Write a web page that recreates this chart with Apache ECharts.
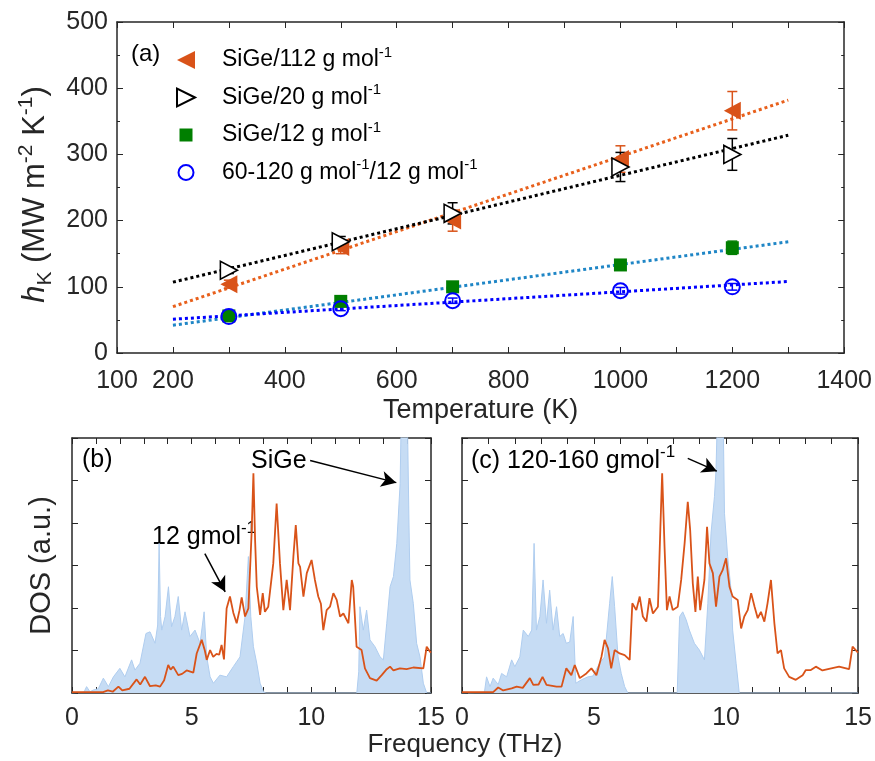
<!DOCTYPE html>
<html><head><meta charset="utf-8">
<script src="https://cdn.jsdelivr.net/npm/echarts@6/dist/echarts.min.js"></script>
<style>html,body{margin:0;padding:0;background:#fff}#c{width:875px;height:761px}</style>
</head><body><div id="c"></div><script>
// ---- panel (a) data ----
const temps = [300, 500, 700, 1000, 1200];
const h112 = [104, 160, 200, 293, 366];
const e112 = [6, 10, 16, 20, 29];
const h20 = [125, 168, 211, 281, 300];
const e20 = [5, 8, 16, 22, 24];
const h12 = [56, 78, 100, 133, 159];
const e12 = [3, 4, 5, 6, 10];
const hMix = [55, 67, 79, 94, 100];
const eMix = [3, 3, 4, 5, 5];
const fitT = [200, 1300];
const fit112 = [70, 382];
const fit20 = [107, 329];
const fit12 = [42, 168];
const fitMix = [51, 108];
const xTickLabels = ['100', '200', '400', '600', '800', '1000', '1200', '1400'];
const yTickLabels = ['0', '100', '200', '300', '400', '500'];
const freqTickLabels = ['0', '5', '10', '15'];
const legendNames = ['SiGe/112 g mol-1', 'SiGe/20 g mol-1', 'SiGe/12 g mol-1', '60-120 g mol-1/12 g mol-1'];

// ---- panel (b) DOS ----
const dosB12 = [[0,0.02],[1.3,0.02],[1.5,0.06],[1.7,0.03],[1.94,0.15],[2.1,0.06],[2.4,0.1],[2.7,0.32],[2.85,0.2],[3.05,0.38],[3.26,0.16],[3.5,0.18],[3.68,0.15],[3.85,0.3],[4.02,0.66],[4.12,0.55],[4.23,0.62],[4.44,0.42],[4.6,0.45],[4.79,0.53],[5.07,0.48],[5.21,0.93],[5.42,1.25],[5.55,1.0],[5.63,0.78],[5.77,1.01],[5.9,0.85],[6.04,0.92],[6.15,0.9],[6.25,1.13],[6.35,0.79],[6.46,1.99],[6.6,2.27],[6.74,1.89],[6.88,1.64],[7.0,1.95],[7.09,2.25],[7.23,1.8],[7.37,1.99],[7.51,3.84],[7.58,5.17],[7.65,3.6],[7.72,2.5],[7.86,1.84],[7.97,2.35],[8.06,1.91],[8.2,2.03],[8.41,3.05],[8.55,4.46],[8.69,3.05],[8.83,1.95],[8.97,2.66],[9.11,1.95],[9.25,3.21],[9.35,3.95],[9.46,3.05],[9.53,2.97],[9.67,2.27],[9.81,2.82],[10.01,3.13],[10.15,2.66],[10.29,2.27],[10.4,2.1],[10.5,1.48],[10.64,1.95],[10.78,2.03],[10.92,2.35],[11.06,2.19],[11.2,1.8],[11.34,1.87],[11.55,1.64],[11.69,2.66],[11.75,2.5],[11.89,1.09],[12.1,1.01],[12.24,0.58],[12.45,0.35],[12.73,0.29],[12.94,0.42],[13.15,0.56],[13.29,0.62],[13.43,0.53],[13.7,0.58],[13.98,0.56],[14.26,0.6],[14.68,0.58],[14.82,1.09],[14.96,0.97],[15,0.95]];
const dosBSiGe = [[0,0],[0.5,0.02],[0.61,0.15],[0.75,0.03],[0.89,0.07],[1.1,0.1],[1.31,0.35],[1.52,0.15],[1.73,0.38],[2.0,0.58],[2.21,0.38],[2.49,0.78],[2.63,0.54],[2.84,0.7],[3.09,1.4],[3.26,1.44],[3.47,1.17],[3.58,1.6],[3.64,3.52],[3.7,1.8],[3.75,1.48],[3.89,1.8],[4.03,2.5],[4.16,1.56],[4.3,1.8],[4.44,2.27],[4.58,1.48],[4.72,1.91],[4.93,1.33],[5.14,1.48],[5.35,1.17],[5.52,1.91],[5.63,0.85],[5.77,0.38],[5.91,0.23],[6.18,0.42],[6.46,0.38],[6.74,0.62],[7.02,0.85],[7.23,1.8],[7.37,3.21],[7.47,1.8],[7.58,1.09],[7.72,0.7],[7.86,0.23],[8.0,0.03],[8.1,0],[11.9,0],[11.98,0.5],[12.03,2.03],[12.17,1.48],[12.31,1.95],[12.45,1.25],[12.66,1.09],[12.87,0.85],[13.01,0.78],[13.15,1.64],[13.29,2.5],[13.43,2.74],[13.57,3.52],[13.71,4.93],[13.77,7],[14.0,7],[14.08,4.0],[14.12,2.66],[14.26,2.11],[14.4,1.17],[14.54,0.85],[14.68,0.23],[14.82,0],[15,0]];
// ---- panel (c) DOS ----
const dosC12 = [[0,0.02],[1.18,0.02],[1.37,0.13],[1.56,0.06],[1.88,0.11],[2.07,0.15],[2.3,0.12],[2.57,0.35],[2.7,0.19],[2.9,0.2],[3.05,0.38],[3.2,0.19],[3.58,0.15],[3.77,0.15],[3.95,0.58],[4.14,0.42],[4.27,0.66],[4.46,0.35],[4.71,0.46],[4.9,0.58],[5.09,0.42],[5.28,0.85],[5.4,1.25],[5.53,1.05],[5.65,0.58],[5.78,1.01],[5.97,0.93],[6.16,0.89],[6.35,0.78],[6.45,2.11],[6.6,1.95],[6.73,2.27],[6.85,1.8],[6.98,1.68],[7.1,2.23],[7.23,1.87],[7.42,2.03],[7.51,3.84],[7.58,5.17],[7.67,3.44],[7.76,1.95],[7.86,2.27],[7.98,1.95],[8.17,2.03],[8.3,2.66],[8.43,3.52],[8.55,4.5],[8.64,3.84],[8.74,2.58],[8.84,1.91],[8.93,2.74],[9.02,1.95],[9.18,2.66],[9.28,3.91],[9.37,3.05],[9.5,2.82],[9.62,2.03],[9.75,2.74],[9.87,2.89],[10.0,3.17],[10.13,2.5],[10.25,2.27],[10.44,2.19],[10.57,1.52],[10.69,1.8],[10.82,1.95],[10.95,2.35],[11.08,2.03],[11.2,1.76],[11.32,1.91],[11.45,1.68],[11.57,2.11],[11.7,2.66],[11.83,1.64],[11.95,0.93],[12.08,1.01],[12.2,0.58],[12.39,0.38],[12.64,0.31],[12.9,0.42],[13.02,0.54],[13.21,0.54],[13.4,0.62],[13.65,0.53],[13.9,0.57],[14.28,0.62],[14.66,0.56],[14.79,1.09],[14.97,0.97],[15,0.95]];
const dosCHeavy = [[0,0],[0.85,0.02],[0.93,0.38],[1.06,0.15],[1.18,0.35],[1.37,0.2],[1.5,0.46],[1.69,0.38],[1.88,0.78],[2.0,0.62],[2.19,0.85],[2.32,1.48],[2.51,1.33],[2.64,1.48],[2.73,3.52],[2.82,1.48],[2.95,1.8],[3.07,2.66],[3.2,1.64],[3.32,2.42],[3.45,1.48],[3.58,2.03],[3.7,1.33],[3.83,1.4],[3.95,1.17],[4.08,1.2],[4.21,1.8],[4.31,0.23],[4.52,0.31],[4.77,0.38],[4.96,0.4],[5.21,0.7],[5.4,0.85],[5.59,2.11],[5.69,2.74],[5.78,2.03],[5.91,0.85],[6.03,0.46],[6.16,0.15],[6.28,0],[8.15,0],[8.24,1.8],[8.36,1.91],[8.49,1.72],[8.61,1.48],[8.8,1.17],[8.99,1.01],[9.18,0.78],[9.31,2.11],[9.43,3.76],[9.56,4.62],[9.62,5.25],[9.69,7],[9.88,7],[9.94,4.23],[10.06,3.21],[10.19,2.42],[10.25,1.48],[10.38,0.7],[10.5,0],[15,0]];

const FONT = 'Liberation Sans';
const AX = '#262626';
const C_OR = '#D95319', C_BK = '#000000', C_GR = '#007F00', C_BL = '#0000FF', C_TEAL = '#1F86C6';
const C_DOSFILL = '#C6DCF4', C_DOSLINE = '#AFCDEF';
const SYM_LEFT = 'path://M0,5L10,0L10,10Z';
const SYM_RIGHT = 'path://M10,5L0,0L0,10Z';
const ICON_SQUARE = 'path://M0,0M18,18M2.5,2.5L15.5,2.5L15.5,15.5L2.5,15.5Z';
const ICON_CIRCLE = 'path://M0,0M18,18M16.5,9A7.5,7.5,0,1,1,1.5,9A7.5,7.5,0,1,1,16.5,9Z';

const chart = echarts.init(document.getElementById('c'), null, {renderer: 'canvas'});

function pairs(xs, ys) { return xs.map((x, i) => [x, ys[i]]); }
function errData(h, e) { return temps.map((t, i) => [t, h[i] - e[i], h[i] + e[i]]); }
function errSeries(h, e, color) {
  return {
    type: 'custom', xAxisIndex: 0, yAxisIndex: 0, silent: true, z: 4,
    data: errData(h, e),
    renderItem: function (params, api) {
      const x = api.value(0), lo = api.value(1), hi = api.value(2);
      const p1 = api.coord([x, lo]), p2 = api.coord([x, hi]);
      const w = 5;
      const st = {stroke: color, lineWidth: 1.5};
      return {type: 'group', children: [
        {type: 'line', shape: {x1: p1[0], y1: p1[1], x2: p2[0], y2: p2[1]}, style: st},
        {type: 'line', shape: {x1: p1[0] - w, y1: p1[1], x2: p1[0] + w, y2: p1[1]}, style: st},
        {type: 'line', shape: {x1: p2[0] - w, y1: p2[1], x2: p2[0] + w, y2: p2[1]}, style: st}
      ]};
    }
  };
}
function fitSeries(ys, color) {
  return {type: 'line', xAxisIndex: 0, yAxisIndex: 0, data: pairs(fitT, ys), showSymbol: false, silent: true, z: 2,
    lineStyle: {color: color, width: 3, type: 'dotted'}};
}
const supRich = {sup: {fontSize: 15, verticalAlign: 'top', fontFamily: FONT, color: '#000'}};

function boxAxes(gridIndex, kind, opts) {
  const common = Object.assign({gridIndex: gridIndex, type: 'value'}, opts);
  const main = Object.assign({}, common, {
    axisLine: {show: true, onZero: false, lineStyle: {color: AX, width: 1.5}},
    axisTick: {show: true, inside: true, length: 6, lineStyle: {color: AX, width: 1}},
    splitLine: {show: false}
  });
  const mirror = Object.assign({}, common, {
    position: kind === 'x' ? 'top' : 'right',
    axisLine: {show: true, onZero: false, lineStyle: {color: AX, width: 1.5}},
    axisTick: {show: true, inside: true, length: 6, lineStyle: {color: AX, width: 1}},
    axisLabel: {show: false}, splitLine: {show: false}, name: ''
  });
  if (opts.minorTick) { main.minorTick = opts.minorTick; mirror.minorTick = opts.minorTick; }
  return [main, mirror];
}

const xa = boxAxes(0, 'x', {min: 100, max: 1400, interval: 100,
  axisLabel: {fontSize: 25, fontFamily: FONT, color: AX, margin: 16,
    formatter: v => xTickLabels.indexOf(String(v)) >= 0 ? String(v) : ''},
  name: 'Temperature (K)', nameLocation: 'middle', nameGap: 44,
  nameTextStyle: {fontSize: 27, fontFamily: FONT, color: AX}});
const ya = boxAxes(0, 'y', {min: 0, max: 500, interval: 100,
  minorTick: {show: true, splitNumber: 2, length: 3, lineStyle: {color: AX}},
  axisLabel: {fontSize: 25, fontFamily: FONT, color: AX, margin: 9,
    formatter: v => yTickLabels.indexOf(String(v)) >= 0 ? String(v) : ''},
  name: '{it|h}{sub|K} (MW m{sup|-2} K{sup|-1})', nameLocation: 'middle', nameGap: 55,
  nameTextStyle: {fontSize: 31, fontFamily: FONT, color: AX, lineHeight: 40, padding: [0, 14, 0, 0],
    rich: {it: {fontStyle: 'italic', fontSize: 31, fontFamily: FONT, color: AX},
      sub: {fontSize: 21, verticalAlign: 'bottom', fontFamily: FONT, color: AX},
      sup: {fontSize: 21, verticalAlign: 'top', fontFamily: FONT, color: AX}}}});

function dosX(g) {
  return boxAxes(g, 'x', {min: 0, max: 15, interval: 1,
    axisLabel: {fontSize: 25, fontFamily: FONT, color: AX, margin: 13,
      formatter: v => freqTickLabels.indexOf(String(v)) >= 0 ? String(v) : ''}});
}
function dosY(g, withName) {
  const o = {min: 0, max: 6, interval: 1, axisLabel: {show: false}};
  if (withName) {
    o.name = 'DOS (a.u.)'; o.nameLocation = 'middle'; o.nameGap = 16;
    o.nameTextStyle = {fontSize: 29, fontFamily: FONT, color: AX};
  }
  return boxAxes(g, 'y', o);
}
const xb = dosX(1), yb = dosY(1, true), xc = dosX(2), yc = dosY(2, false);

const arrowLine = (pairsList) => ({
  silent: true, symbol: ['none', 'arrow'], symbolSize: [12, 15],
  label: {show: false}, lineStyle: {color: '#000', width: 1.5, type: 'solid'},
  data: pairsList.map(p => [{coord: p[0]}, {coord: p[1]}])
});

const option = {
  animation: false,
  backgroundColor: '#fff',
  grid: [
    {left: 117, top: 22, width: 729, height: 331},
    {left: 72, top: 438, width: 359, height: 255},
    {left: 462, top: 438, width: 397, height: 255}
  ],
  xAxis: [xa[0], xa[1], xb[0], xb[1], xc[0], xc[1]],
  yAxis: [ya[0], ya[1], yb[0], yb[1], yc[0], yc[1]],
  legend: {
    data: [
      {name: legendNames[0]}, {name: legendNames[1]},
      {name: legendNames[2], icon: ICON_SQUARE}, {name: legendNames[3], icon: ICON_CIRCLE}
    ],
    orient: 'vertical', left: 176, top: 45, padding: 0,
    itemWidth: 18, itemHeight: 18, itemGap: 7.5, selectedMode: false,
    textStyle: {fontSize: 23, fontFamily: FONT, color: '#000', lineHeight: 30, padding: [0, 0, 0, 22], rich: supRich},
    formatter: n => n.replace(/ mol-1/g, ' mol{sup|-1}')
  },
  graphic: [
    {type: 'text', left: 131, top: 42, style: {text: '(a)', fontSize: 24, fontFamily: FONT, fill: '#000'}},
    {type: 'text', x: 82, y: 460, style: {text: '(b)', fontSize: 25, fontFamily: FONT, fill: '#000', verticalAlign: 'middle'}},
    {type: 'text', x: 251, y: 461, style: {text: 'SiGe', fontSize: 25, fontFamily: FONT, fill: '#000', verticalAlign: 'middle'}},
    {type: 'text', x: 152, y: 537, style: {text: '12 gmol{sup|-1}', fontSize: 25, lineHeight: 34, fontFamily: FONT, fill: '#000', verticalAlign: 'middle', rich: {sup: {fontSize: 17, verticalAlign: 'top', fontFamily: FONT, fill: '#000'}}}},
    {type: 'text', x: 471, y: 461, style: {text: '(c) 120-160 gmol{sup|-1}', fontSize: 25, lineHeight: 34, fontFamily: FONT, fill: '#000', verticalAlign: 'middle', rich: {sup: {fontSize: 17, verticalAlign: 'top', fontFamily: FONT, fill: '#000'}}}},
    {type: 'text', x: 465, y: 745, style: {text: 'Frequency (THz)', fontSize: 26, fontFamily: FONT, fill: AX, align: 'center', verticalAlign: 'middle'}}
  ],
  series: [
    fitSeries(fit112, '#E8601C'),
    fitSeries(fit20, C_BK),
    fitSeries(fit12, C_TEAL),
    fitSeries(fitMix, C_BL),
    errSeries(h112, e112, C_OR),
    errSeries(h20, e20, C_BK),
    errSeries(h12, e12, C_GR),
    errSeries(hMix, eMix, C_BL),
    {name: legendNames[0], type: 'scatter', xAxisIndex: 0, yAxisIndex: 0, data: pairs(temps, h112), z: 5,
      symbol: SYM_LEFT, symbolSize: [17, 18], itemStyle: {color: C_OR, opacity: 1}},
    {name: legendNames[1], type: 'scatter', xAxisIndex: 0, yAxisIndex: 0, data: pairs(temps, h20), z: 5,
      symbol: SYM_RIGHT, symbolSize: [17, 18], itemStyle: {color: '#fff', borderColor: C_BK, borderWidth: 1.6, opacity: 1}},
    {name: legendNames[2], type: 'scatter', xAxisIndex: 0, yAxisIndex: 0, data: pairs(temps, h12), z: 5,
      symbol: 'rect', symbolSize: 13, itemStyle: {color: C_GR, opacity: 1}},
    {name: legendNames[3], type: 'scatter', xAxisIndex: 0, yAxisIndex: 0, data: pairs(temps, hMix), z: 5,
      symbol: 'circle', symbolSize: 15, itemStyle: {color: 'rgba(255,255,255,0)', borderColor: C_BL, borderWidth: 2, opacity: 1}},
    // DOS (b)
    {type: 'line', xAxisIndex: 2, yAxisIndex: 2, data: dosBSiGe, showSymbol: false, silent: true, clip: true,
      lineStyle: {color: C_DOSLINE, width: 1}, areaStyle: {color: C_DOSFILL, opacity: 1}, z: 2},
    {type: 'line', xAxisIndex: 2, yAxisIndex: 2, data: dosB12, showSymbol: false, silent: true, clip: true,
      lineStyle: {color: C_OR, width: 1.8}, z: 3,
      markLine: arrowLine([[[9.95, 5.47], [13.55, 4.95]], [[5.55, 3.28], [6.4, 2.38]]])},
    // DOS (c)
    {type: 'line', xAxisIndex: 4, yAxisIndex: 4, data: dosCHeavy, showSymbol: false, silent: true, clip: true,
      lineStyle: {color: C_DOSLINE, width: 1}, areaStyle: {color: C_DOSFILL, opacity: 1}, z: 2},
    {type: 'line', xAxisIndex: 4, yAxisIndex: 4, data: dosC12, showSymbol: false, silent: true, clip: true,
      lineStyle: {color: C_OR, width: 1.8}, z: 3,
      markLine: arrowLine([[[8.55, 5.52], [9.65, 5.22]]])}
  ]
};
chart.setOption(option);
</script></body></html>
